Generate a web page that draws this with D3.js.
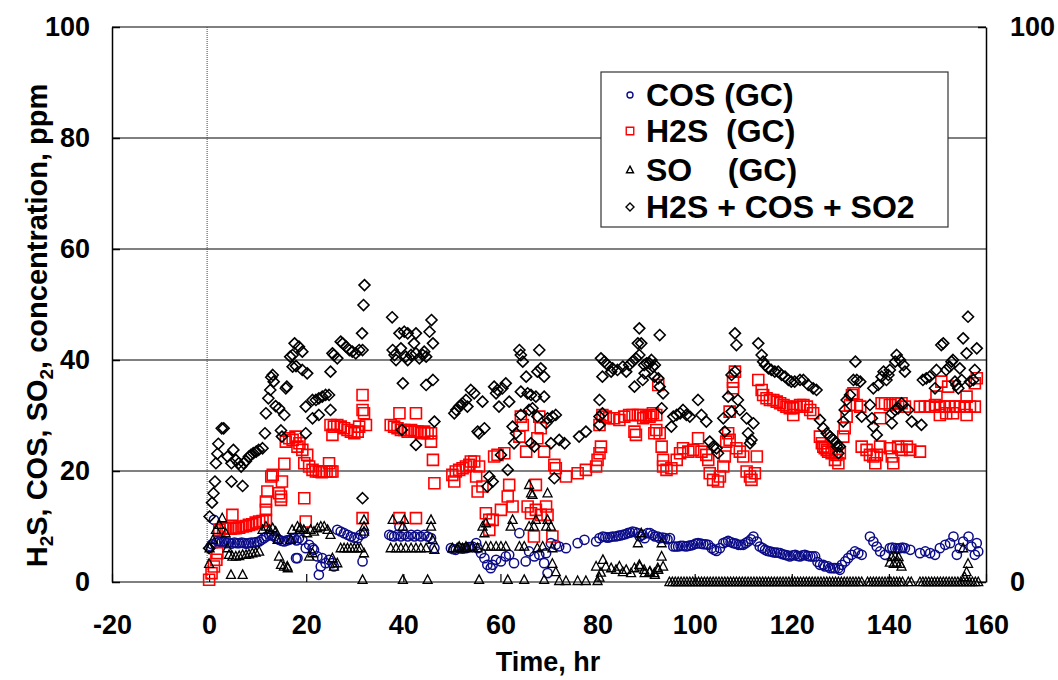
<!DOCTYPE html>
<html>
<head>
<meta charset="utf-8">
<script src="https://cdn.jsdelivr.net/npm/d3@7"></script>
<style>
  html, body { margin: 0; padding: 0; background: #fff; }
  svg text { font-family: "Liberation Sans", Arial, Helvetica, sans-serif; font-weight: bold; }
</style>
</head>
<body>
<div id="chart"></div>
<script>
// data: [time (hr), concentration (ppm)]
const cosData = [
  [0.3,6.4],[0.6,6.8],[1.0,11.2],[1.4,7],[1.7,7.4],[2.1,7.3],[2.6,7.2],[3.1,7.3],[3.6,7.0],[4.1,7.1],[4.6,6.9],[5.2,7.1],[5.7,7.0],[6.2,7],[6.7,7.1],[7.2,7],[7.7,6.9],[8.2,7],[8.7,7.1],[9.3,7.1],[9.8,7.2],[10.3,7.3],[10.8,7.6],[11.3,7.9],[11.8,8.2],[12.4,8.5],[12.9,8.4],[13.4,8.2],[13.9,7.9],[14.4,7.6],[15,7.4],[15.5,7.3],[16,7.5],[16.5,7.6],[17,7.8],[17.5,7.9],[17.9,4.3],[18,7.5],
  [18.2,4.3],[18.5,7.9],[19.2,7.6],[19.9,6.1],[20.6,6.7],[21.3,6.1],[21.6,5.8],[22.3,4.6],[22.6,1.3],[23,2.8],[23.3,4.3],[24,3.4],[24.7,4],[25.4,3.4],[25.7,2.8],[26.4,9.4],[27.1,9.1],[27.8,8.8],[28.5,8.5],[29.2,8.2],[29.9,8],[30.6,7.9],[31.2,8.5],[31.9,8.8],[31.6,3.7],
  [37.1,8.5],[37.6,8.3],[38.1,8.2],[38.8,8.5],[39.2,10],[39.5,8.2],[40.2,8.5],[40.9,8.2],[41.6,8.5],[42.3,8.2],[42.9,8.5],[43.6,8.2],[44.3,8.5],[45,8.2],[45.7,7.9],[46.4,6.1],
  [49.8,6.1],[50.3,5.9],[50.8,5.8],[51.5,6.1],[52.2,6.0],[52.9,6.1],[53.5,6.3],[54.2,6.4],[55,7],[55.3,6.1],[56,5.2],[56.7,4.3],[57.3,3.1],[58,2.5],[58.4,3.1],[59.1,4],[60.1,3.7],[61.1,4.6],[61.8,4.9],[62.8,3.4],[63.9,8.8],[65.2,3.7],[65.9,5.5],[67,4.6],[68,4.9],[69,3.4],[69.4,5.2],[69.7,1.6],[70.4,7],[71.4,6.7],[72.1,6.4],[73.5,6.1],[75.9,7],[77.3,7.6],[79.7,7.3],
  [80.4,7.9],[81.1,8.2],[81.6,8.1],[82.1,8],[82.6,8.1],[83.1,8.2],[83.7,8.2],[84.2,8.3],[84.7,8.4],[85.2,8.5],[85.7,8.6],[86.2,8.8],[86.7,8.9],[87.2,9.1],[87.7,9.0],[88.3,8.8],[88.7,8.2],[89.3,8.5],[89.7,7.9],[90.3,8.8],[90.8,8.8],[91.4,8.5],[91.8,8.2],[92.4,8.2],[92.8,7.9],[93.4,8.0],[93.9,7.9],[94.4,7.7],[94.9,7.9],
  [95.6,6.4],[96.1,6.4],[96.6,6.4],[97.1,6.5],[97.6,6.5],[98.2,6.4],[98.7,6.5],[99.2,6.6],[99.7,6.7],[100.2,6.9],[100.7,7],[101.3,6.9],[101.8,6.8],[102.3,6.8],[102.8,6.7],[103.5,6.1],[104,5.8],[104.5,5.6],[105.2,6.1],[105.9,7],[106.4,7.2],[106.9,7.4],[107.4,7.2],[108,7],[108.5,6.9],[109,6.7],[109.5,6.7],[110,6.7],[110.5,7.0],[111,7.3],[111.6,7.7],[112.1,8.2],[112.8,7.3],[113.4,6.4],[114,6.1],[114.5,5.8],[115,5.6],[115.5,5.5],[116,5.4],[116.5,5.3],[117,5.3],[117.6,5.2],[118.1,5.0],[118.6,4.9],[119.1,4.8],[119.6,4.6],[120.2,4.8],[120.7,4.9],[121.2,4.7],[121.7,4.6],[122.2,4.8],[122.7,4.9],[123.3,4.7],[123.8,4.6],[124.3,4.6],[124.8,4.6],
  [125.3,3.6],[125.8,3.1],[126.5,3.1],[126.8,2.8],[127.5,2.8],[127.9,2.5],[128.5,2.5],[128.9,2.5],[129.6,2.5],[129.9,2.2],[130.3,3.1],[131,3.7],[131.6,4.3],[132.3,4.9],[133,5.5],[133.7,5.2],[134.4,4.9],[136.1,8.2],[136.8,7.3],[137.5,6.4],[138.2,5.5],[139.2,4.9],[140.2,6.1],[140.7,6.2],[141.3,6.1],[141.8,6.0],[142.3,6.1],[142.8,6.2],[143.3,6.1],[144.4,5.8],[146.4,5.2],[147.5,5.5],[148.5,5.2],[149.5,4.9],[150.5,6.1],[151.6,6.7],[152.6,7],[153.3,8.2],[154,4.9],[154.6,6.1],[155.3,7.3],[156.4,8.2],[157,6.4],[157.7,4.9],[158.1,7],[158.4,5.5]
];

const h2sData = [
  [0,0.4],[0.5,1.6],[1,2.8],[1.5,4],[1.7,5.2],[2.1,9.4],[2.9,9.7],[3.4,9.6],[3.8,9.7],[4.4,9.6],[4.8,12.1],[5,9.7],[5.5,9.7],[6.2,9.8],[6.9,10],[7.6,10.1],[8.2,10.3],[8.9,10.4],[9.6,10.7],[10.3,10.9],[11,11],[11.7,11.2],[11.7,13],[11.7,14.5],[12,16.3],[12.8,19],[13.1,19.3],[14.4,16],[14.8,14.8],[14.8,15.4],[15,18.1],[15.5,21.3],
  [15.8,25.3],[16.5,25.9],[17.2,25.6],[17.8,26.2],[18.2,24.4],[18.6,25],[19.2,23.8],[19.6,21.4],[20.2,22.9],[19.6,15.1],[19.9,10.9],[20.6,20.8],[21.3,20.2],[22,19.9],[22.6,19.9],[23.2,19.8],[23.7,19.9],[24.2,19.9],[24.7,21.4],[25,19.9],[25.4,19.9],
  [25,28.3],[25.4,26.5],[25.7,28],[26.4,28.3],[27.1,28],[27.8,27.7],[28.5,27.4],[29.2,27.1],[29.9,26.8],[30.6,27.1],[30.9,28],[31.6,33.7],[31.6,31],[31.9,30.4],[32.3,28.3],[31.6,11.5],
  [37.4,28.3],[38.1,28],[38.8,27.7],[39.2,30.4],[39.5,27.4],[40.2,27.4],[40.9,27.1],[41.6,27.4],[42.3,27.1],[42.6,30.4],[42.9,27.1],[43.6,26.8],[44.3,27.1],[45,26.8],[45.7,26.8],[39.2,11.5],[42.6,11.5],[45.7,25.3],[46.1,22],[46.4,17.8],
  [50.1,19.3],[50.5,18.1],[50.8,19.9],[51.5,20.2],[52.2,20.5],[52.9,20.8],[53.6,21.1],[53.9,21.7],[54.6,21.7],[55,19],[55.6,20.8],[55.3,16.3],[56.3,17.2],[57,12.4],[57.7,11.2],[57.7,9.4],[58.4,11.2],[58.7,22.6],[59.4,22.9],[60.1,13],[60.8,23.2],[61.5,15.4],[61.8,17.5],[62.5,13.6],
  [63.9,26.2],[64.2,29.8],[64.6,28.3],[65.3,23.5],[65.6,13.6],[66.3,12.4],[66.9,8.2],[67.3,13],[67.3,17.5],[67.6,25.9],[68,29.8],[68.3,27.7],[68.3,12.1],[69,23.5],[69.4,13.6],[69.7,12.1],[70.7,8.2],[71.1,21.1],[71.4,20.5],[73.5,19],[75.9,19.6],[77.6,20.2],[79.7,20.8],[80,22],[80.4,23.2],[80.7,24.4],[80.4,28.3],
  [81,30.1],[81.7,29.8],[82.4,29.5],[83.4,29.5],[84.5,29.2],[85.5,29.8],[86.5,30.1],[87.2,30.1],[87.6,27.1],[87.9,26.5],[88.3,30.1],[88.9,30.1],[89.4,29.5],[90,29.8],[90.7,29.8],[91,30.1],[91.4,30.4],[91.7,26.8],[92.1,30.1],[92.1,27.4],[92.5,35.5],[92.8,26.8],[93.2,24.4],[93.5,22],[93.5,20.8],
  [94.2,20.2],[95.2,20.5],[96.3,22],[97,23.2],[97.6,24.1],[98.7,23.5],[99.7,23.8],[100.7,25.9],[101.4,23.5],[102.4,22.9],[102.8,22],[103.1,19.6],[103.8,18.4],[104.8,18.1],[105.2,19],[105.9,20.8],[106.2,22.6],[106.5,25.3],[106.9,26.8],[107.2,25.6],[107.2,30.7],[107.9,34.9],[107.9,36.1],[108.3,37.9],[108.6,24.1],[109.3,23.5],[110,22.6],[110.7,19.9],[111.4,19],[111.7,18.4],[112.4,19.6],[112.8,22.6],
  [113.1,36.4],[113.8,34.6],[114.1,33.7],[114.8,33.1],[115.5,32.8],[116.2,32.8],[116.9,32.5],[117.6,32.2],[118.3,31.9],[118.9,31.6],[119.6,31.3],[120.3,31.3],[120.3,30.1],[121,31.6],[121.7,31.9],[122.4,31.9],[123.1,31.6],[123.8,31],[124.4,30.4],
  [125.8,26.2],[126.2,25],[126.5,24.4],[126.8,24.1],[127.2,23.8],[127.5,23.5],[128.2,23.2],[128.9,22],[129.2,22.9],[129.6,21.4],[129.9,23.2],[130.6,26.2],[130.9,27.7],[131.3,29.8],[132,31.9],[132.4,33.7],[132.7,34],[133.4,31.9],[134.1,31.6],
  [134.4,24.4],[135.4,23.8],[136.1,22.9],[136.8,22.6],[137.2,21.4],[137.5,22.9],[138.2,24.4],[138.2,29.5],[138.5,32.2],[139.2,32.2],[140.2,31.9],[140.2,24.1],[140.6,22.6],[140.9,21.4],[141.3,32.2],[141.9,32.2],[141.9,24.4],[142.6,32.2],[142.6,23.8],[143.3,31.6],[143.7,24.4],[144.4,23.8],[146.4,23.5],
  [146.4,31.6],[147.4,31.6],[148.4,31.6],[149.5,31.9],[149.8,33.4],[150.5,31.6],[150.5,30.1],[150.8,36.1],[151.5,31.6],[151.8,30.4],[152.2,35.2],[152.5,31.6],[153.2,30.4],[153.6,31.6],[154.6,31.6],[155.6,31.6],[156,30.1],[156,33.4],[156.7,31.6],[157.7,31.6],[157.7,35.8],[158.1,36.7]
];

const soData = [
  [0,3.3],[0.1,6.1],[0.8,7.6],[1.4,9.4],[2.1,10.3],[2.7,11.5],[3.4,8.8],[3.8,6.1],[4.1,4.9],[4.5,1.3],[4.8,4.6],[5.5,4.6],[6.2,4.7],[6.9,4.9],[6.9,1.3],[7.6,4.9],[8.2,5.0],[8.9,5.2],[9.6,5.3],[10.3,5.5],[11,9.4],[11.7,10],[12.4,9.4],[13.1,9.7],[13.7,9.1],[14.1,7.6],[14.4,4.6],[14.8,3.1],[15.4,2.8],[16.1,2.8],[16.2,2.5],[16.8,7.6],
  [17.1,9.4],[18.2,10],[18.6,9.4],[18.8,9.7],[19.5,9.4],[20.2,8.8],[20.6,4.6],[20.9,9.4],[21.3,5.2],[21.6,9.1],[22.3,9.7],[23,10],[23.7,10],[24.4,9.4],[25,8.5],[25.4,4.3],[25.7,2.8],[26.4,3.4],
  [27.1,6.1],[27.8,6.1],[28.5,6.1],[29.2,6.1],[29.9,6.1],[30.6,6.1],[31.2,6.1],[31.6,0.4],[31.9,5.2],[31.9,9.1],[31.9,10],[31.9,11.2],
  [37.4,6.1],[37.8,11.2],[38.5,6.1],[39.5,6.1],[39.9,10],[39.9,0.4],[40.2,11.2],[40.5,6.1],[41.6,6.1],[42.6,6.1],[43.6,6.1],[44.7,6.1],[45,0.4],[45.7,11.2],[45.7,10],[46,7.6],[46.4,5.8],
  [50.1,6.1],[51.1,6.1],[51.5,6.4],[52.2,6.1],[52.9,6.4],[53.2,6.1],[54.2,6.4],[55.3,6.1],[55.6,0.4],[56.3,10],[56.7,8.8],[57,10.6],[57,6.4],[58,6.4],[59.1,6.4],[60.1,6.4],[61.1,6.4],[61.5,0.4],[62.1,10],[62.5,11.2],[63.9,6.4],[64.9,6.4],[64.9,0.4],
  [65.9,10],[65.9,17.5],[66.3,16],[66.6,15.7],[66.9,10],[67.3,11.2],[67.6,6.1],[68.7,6.4],[69,0.4],[69.4,10],[69.7,11.2],[69.7,16],[70.4,10],[70.7,6.1],[70.7,3.3],[71.4,1.8],[72.1,0.2],[73.5,0.2],[75.9,0.2],[77.6,0.2],
  [79.7,2.8],[80,0.2],[80.4,0.8],[80.7,1.7],[81.1,4],[81.7,2.8],[82.8,2.5],[83.8,2.2],[84.5,2.8],[85.2,1.8],[85.9,2.2],[86.9,1.6],[87.6,2.5],[88.3,7],[88.6,3.1],[88.7,2.8],[89,8.8],[89.6,2.2],[89.7,1.6],[90.7,1.8],[90.8,1.9],[91.7,1.6],[91.8,1.3],[92.4,2.5],[92.5,2.2],[93.2,7],[93.2,4.6],[93.5,2.8],
  [94.8,0],[95.4,0],[96,0],[96.6,0],[97.2,0],[97.8,0],[98.4,0],[99,0],[99.6,0],[100.2,0],[100.8,0],[101.4,0],[102,0],[102.6,0],[103.2,0],[103.8,0],[104.4,0],[105,0],[105.6,0],[106.2,0],[106.8,0],[107.4,0],[108,0],[108.6,0],[109.2,0],[109.8,0],[110.4,0],[111,0],[111.6,0],[112.2,0],[112.8,0],[113.4,0],[114,0],[114.6,0],[115.2,0],[115.8,0],[116.4,0],[117,0],[117.6,0],[118.2,0],[118.8,0],[119.4,0],[120,0],[120.6,0],[121.2,0],[121.8,0],[122.4,0],[123,0],[123.6,0],[124.2,0],[124.8,0],[125.4,0],[126,0],[126.6,0],[127.2,0],[127.8,0],[128.4,0],[129,0],[129.6,0],[130.2,0],[130.8,0],[131.4,0],[132,0],[132.6,0],[133.2,0],[133.8,0],[134.4,0],[135.6,0],[136.2,0],[136.8,0],[137.4,0],[138,0],[138.6,0],[139.2,0],[139.8,0],[140.4,0],[141,0],[141.6,0],[142.2,0],[142.8,0],[144,0],[144.6,0],[146.4,0],[147,0],[147.6,0],[148.2,0],[148.8,0],[149.4,0],[150,0],[150.6,0],[151.2,0],[151.8,0],[152.4,0],[153,0],[153.6,0],[154.2,0],[154.8,0],[155.4,0],[156,0],[156.6,0],[157.2,0],[157.8,0],[158.4,0],
  [140.2,3.5],[140.6,4.5],[141,3.3],[141.3,4.6],[141.6,3.5],[142,4.5],[142.3,3.3],[142.6,2.8],[155.3,6.1],[155.6,0.9],[156,1.8],[156.3,3.3]
];

const totalData = [
  [0,6.1],[0.1,11.8],[0.6,14.3],[0.9,16],[1.2,18.1],[1.4,21.4],[1.7,23.1],[1.9,24.9],[2.6,27.7],[3,27.7],[3.8,22.6],[4.6,21.4],[4.6,18.1],[5,23.8],[5.5,22],[6.1,21.4],[6.6,20.8],[6.9,17.3],[7.1,21.4],[7.6,21.8],[8.2,22.6],[8.6,22.9],[9.1,23.2],[9.7,23.5],[10.2,23.8],[11,24.1],
  [11.5,26.8],[11.7,30.4],[12.2,33.1],[12.6,34.6],[12.8,36.9],[13.1,37.3],[13.3,36.1],[13.7,31.7],[14.4,31.3],[14.8,27.3],[15,26.2],[15.5,30.1],[15.8,34.9],[16,35.2],[16.7,40.6],[17.2,40.9],[17.2,38.8],[17.6,43],[17.9,38.9],[18.5,42.4],[19.2,41.5],[19.2,38.2],[19.9,31.6],[19.9,26.8],[20.2,37.6],
  [21.3,32.8],[21.3,29.5],[22,32.8],[22.6,33.1],[22.6,30.1],[23.3,33.4],[24,33.7],[24.7,33.7],[25,31],[25,37.9],[25.4,41.2],[25.7,40.9],[26.4,40.3],[27.1,43.3],[27.5,43],[28.2,42.4],[28.9,41.8],[29.5,41.5],[30.2,41.2],[30.9,41.8],[31.5,44.8],[31.6,41.8],[31.6,15.1],[31.8,49.9],[32,53.5],
  [37.7,47.7],[37.8,41.8],[38.2,40.9],[38.5,40],[39.2,44.8],[39.5,42.1],[39.7,27.4],[39.9,35.8],[40.2,45.1],[40.5,40.6],[40.9,44.8],[40.9,40],[41.6,40.9],[42.2,43],[42.6,41.2],[42.6,44.8],[42.6,24.7],[43.3,40.3],[44,40.9],[44.3,41.5],[44.7,40.6],[44.7,35.5],[45.4,45.1],[45.8,47.2],[46.1,43],[46.1,36.4],[46.4,28.9],
  [50.5,30.4],[50.9,31],[51.5,31.6],[51.9,31.9],[52.2,32.2],[52.9,32.8],[53.2,31.6],[53.9,34.6],[54.6,34],[55.3,27.1],[55.6,26.8],[56.3,32.5],[56.7,27.7],[57.3,17.2],[57.7,19],[58.4,18.1],[58.7,35.2],[59.1,34],[59.4,34.6],[59.7,31.6],[60.1,22.9],[60.4,34.9],[61.1,35.8],[61.5,20.2],[61.8,32.5],[62.5,28],[62.8,25],[63.2,26.8],
  [63.9,41.8],[64.2,40.9],[64.2,34.3],[64.2,30.1],[64.6,39.7],[65.3,37],[65.6,34],[65.9,31],[66.3,33.7],[66.3,25],[66.6,31.3],[67,24.4],[67.3,33.4],[67.6,37.9],[67.6,29.8],[68,41.8],[68.3,38.5],[69,37],[69,33.4],[69.4,28.6],[69.7,29.5],[70.4,25],[70.7,29.8],[71.1,18.7],[71.4,30.1],[72.1,25.6],[73.2,25],[76.2,26.2],[77.6,27.1],
  [80.4,32.8],[80.4,29.8],[80.4,28.3],[80.7,40.3],[81,30.4],[81,37],[81.4,39.7],[82.1,39.1],[82.8,37.9],[83.1,38.5],[84.1,38.2],[85.2,38.8],[85.9,37.9],[86.5,39.1],[87.2,39.7],[87.6,35.2],[87.9,40.3],[88.3,43],[88.6,45.7],[88.6,40.9],[89,43],[89.3,36.4],[89.6,39.1],[89.7,37.6],[90.1,39.4],[90.7,39.4],[91.1,40],[91.4,38.8],[91.7,37],[91.8,39.1],[92.5,36.7],[92.8,44.5],[92.8,35.2],[93.2,31.3],[93.5,34],
  [95.2,28],[95.6,29.8],[96.3,30.1],[97,30.4],[97.6,31],[98.3,30.1],[99,29.8],[100.7,32.8],[101.4,30.1],[102.4,28.9],[103.1,25.3],[103.8,24.4],[104.5,24.1],[104.8,23.2],[105.9,29.5],[106.2,27.1],[106.9,33.4],[107.6,30.7],[107.6,37.3],[108.3,37.9],[108.3,44.8],[108.6,42.7],[108.9,32.8],[109.3,31],[110.7,29.5],[111,26.8],[111.4,25],[111.7,25.6],[112.1,28.6],
  [113.1,43],[113.8,40.9],[114.1,39.7],[114.5,39.1],[115.2,38.5],[115.8,38.2],[116.5,37.9],[117.2,37.9],[117.9,37.3],[118.6,37],[119.3,36.4],[119.9,36.1],[120.6,36.1],[121.7,36.4],[122.4,36.4],[123.4,35.5],[124.4,34.9],[125.1,34.6],
  [125.8,29.2],[126.5,27.7],[127.2,26.8],[127.9,26.2],[128.6,25.6],[129.2,25],[129.3,24.4],[129.6,23.2],[129.9,24.4],[130.6,28.9],[130.9,31],[131.3,32.8],[132,33.7],[132.7,36.4],[133.1,39.7],[133.4,36.4],[134.1,36.1],[134.4,29.8],
  [136.1,31.9],[136.5,29.5],[136.8,28],[136.8,34.9],[137.5,26.5],[137.8,35.5],[138.5,37],[138.9,37.9],[139.5,36.4],[139.9,37.3],[140.2,38.2],[140.6,28.6],[140.6,30.4],[141.3,31],[141.3,39.7],[141.6,40.9],[141.9,31.3],[142.3,40],[142.6,32.2],[143,39.1],[143.3,37.9],[144,31],[144.7,28.9],[146.7,28.3],
  [147,36.4],[147.7,36.7],[148.4,37],[149.5,34.9],[149.8,38.2],[150.8,42.7],[151.2,43],[151.8,38.2],[152.5,38.8],[152.9,39.7],[153.2,40],[153.6,36.1],[153.9,35.5],[154.3,34.9],[154.6,38.5],[155,36.4],[155.3,43.9],[156,41.2],[156.3,47.8],[156.7,36.1],[157.4,36.4],[157.7,38.2],[158.1,42.1]
];

const xTicks = [-20, 0, 20, 40, 60, 80, 100, 120, 140, 160];
const yTicks = [0, 20, 40, 60, 80, 100];
const rightTicks = [0, 100];
const legendLabels = ['COS (GC)', 'H2S  (GC)', 'SO    (GC)', 'H2S + COS + SO2'];

const width = 1058, height = 680;
const plot = { left: 112, right: 986, top: 27, bottom: 582 };
const FONT = 27;

const svg = d3.select('#chart').append('svg')
    .attr('width', width)
    .attr('height', height);

const x = d3.scaleLinear().domain([-20, 160]).range([plot.left, plot.right]);
const y = d3.scaleLinear().domain([0, 100]).range([plot.bottom, plot.top]);
const plain = d => String(d);   // keep the ascii hyphen in "-20"

// grid lines (0 and 100 double as bottom / top frame)
svg.append('g').selectAll('line')
    .data(yTicks)
    .join('line')
    .attr('x1', plot.left).attr('x2', plot.right)
    .attr('y1', d => y(d)).attr('y2', d => y(d))
    .attr('stroke', '#808080')
    .attr('stroke-width', 2);

// dotted line at time zero
svg.append('line')
    .attr('x1', x(0) - 2).attr('x2', x(0) - 2)
    .attr('y1', plot.top).attr('y2', plot.bottom)
    .attr('stroke', '#444')
    .attr('stroke-width', 1)
    .attr('stroke-dasharray', '1,1');

// left axis
const yAxis = svg.append('g')
    .attr('transform', `translate(${plot.left},0)`)
    .call(d3.axisLeft(y).tickValues(yTicks).tickFormat(plain).tickSize(-8).tickPadding(22).tickSizeOuter(0));
yAxis.select('.domain').attr('stroke', '#000').attr('stroke-width', 1.5);
yAxis.selectAll('.tick line').attr('stroke', '#000').attr('stroke-width', 1.5);
yAxis.selectAll('.tick text').attr('font-size', FONT).attr('fill', '#000');

// right axis, only 0 and 100 labelled
const rAxis = svg.append('g')
    .attr('transform', `translate(${plot.right},0)`)
    .call(d3.axisRight(y).tickValues(rightTicks).tickFormat(plain).tickSize(-8).tickPadding(24).tickSizeOuter(0));
rAxis.select('.domain').attr('stroke', '#000').attr('stroke-width', 1.5);
rAxis.selectAll('.tick line').attr('stroke', '#000').attr('stroke-width', 1.5);
rAxis.selectAll('.tick text').attr('font-size', FONT).attr('fill', '#000');

// bottom axis, ticks point up into the plot
const xAxis = svg.append('g')
    .attr('transform', `translate(0,${plot.bottom})`)
    .call(d3.axisBottom(x).tickValues(xTicks).tickFormat(plain).tickSize(-8).tickPadding(33).tickSizeOuter(0));
xAxis.select('.domain').remove();
xAxis.selectAll('.tick line').attr('stroke', '#000').attr('stroke-width', 1.2);
xAxis.selectAll('.tick text').attr('font-size', FONT).attr('fill', '#000');

// axis titles
svg.append('text')
    .attr('x', (plot.left + plot.right) / 2 - 1)
    .attr('y', 671)
    .attr('text-anchor', 'middle')
    .attr('font-size', FONT)
    .text('Time, hr');

const yTitle = svg.append('text')
    .attr('transform', `translate(47,${(plot.top + plot.bottom) / 2 + 21}) rotate(-90)`)
    .attr('text-anchor', 'middle')
    .attr('font-size', 29);
[['H', false], ['2', true], ['S, COS, SO', false], ['2', true], [', concentration, ppm', false]]
    .forEach(([t, sub]) => {
        const ts = yTitle.append('tspan').text(t);
        if (sub) ts.attr('font-size', 19).attr('dy', 6);
        else ts.attr('dy', t === 'H' ? 0 : -6);
    });

// marker shapes
const shapes = {
    circle: r => d3.symbol(d3.symbolCircle, Math.PI * r * r)(),
    square: s => `M${-s / 2},${-s / 2}h${s}v${s}h${-s}Z`,
    triangle: s => `M0,${-s * 0.55}L${s / 2},${s * 0.4}L${-s / 2},${s * 0.4}Z`,
    diamond: s => `M0,${-s / 2}L${s / 2},0L0,${s / 2}L${-s / 2},0Z`
};

const series = [
    { name: 'cos', data: cosData, shape: shapes.circle(4.6), legendShape: shapes.circle(3), color: '#0c0c88', sw: 1.5 },
    { name: 'h2s', data: h2sData, shape: shapes.square(11), legendShape: shapes.square(7.5), color: '#ff0000', sw: 1.6 },
    { name: 'so', data: soData, shape: shapes.triangle(9), legendShape: shapes.triangle(7), color: '#000', sw: 1.3 },
    { name: 'total', data: totalData, shape: shapes.diamond(11), legendShape: shapes.diamond(8), color: '#000', sw: 1.6 }
];

series.forEach(s => {
    svg.append('g')
        .classed(s.name, true)
        .selectAll('path')
        .data(s.data)
        .join('path')
        .attr('d', s.shape)
        .attr('transform', d => `translate(${x(d[0])},${y(d[1])})`)
        .attr('fill', 'none')
        .attr('stroke', s.color)
        .attr('stroke-width', s.sw);
});

// legend
const legend = svg.append('g').attr('transform', 'translate(601,72)');
legend.append('rect')
    .attr('width', 347).attr('height', 155)
    .attr('fill', '#fff')
    .attr('stroke', '#333')
    .attr('stroke-width', 1.2);

const rowY = [23, 59, 98, 135];
series.forEach((s, i) => {
    legend.append('path')
        .attr('d', s.legendShape)
        .attr('transform', `translate(29,${rowY[i]})`)
        .attr('fill', 'none')
        .attr('stroke', s.color)
        .attr('stroke-width', 1.4);
    legend.append('text')
        .attr('x', 45)
        .attr('y', rowY[i] + 11)
        .attr('font-size', 32)
        .style('white-space', 'pre')
        .text(legendLabels[i]);
});
</script>
</body>
</html>
